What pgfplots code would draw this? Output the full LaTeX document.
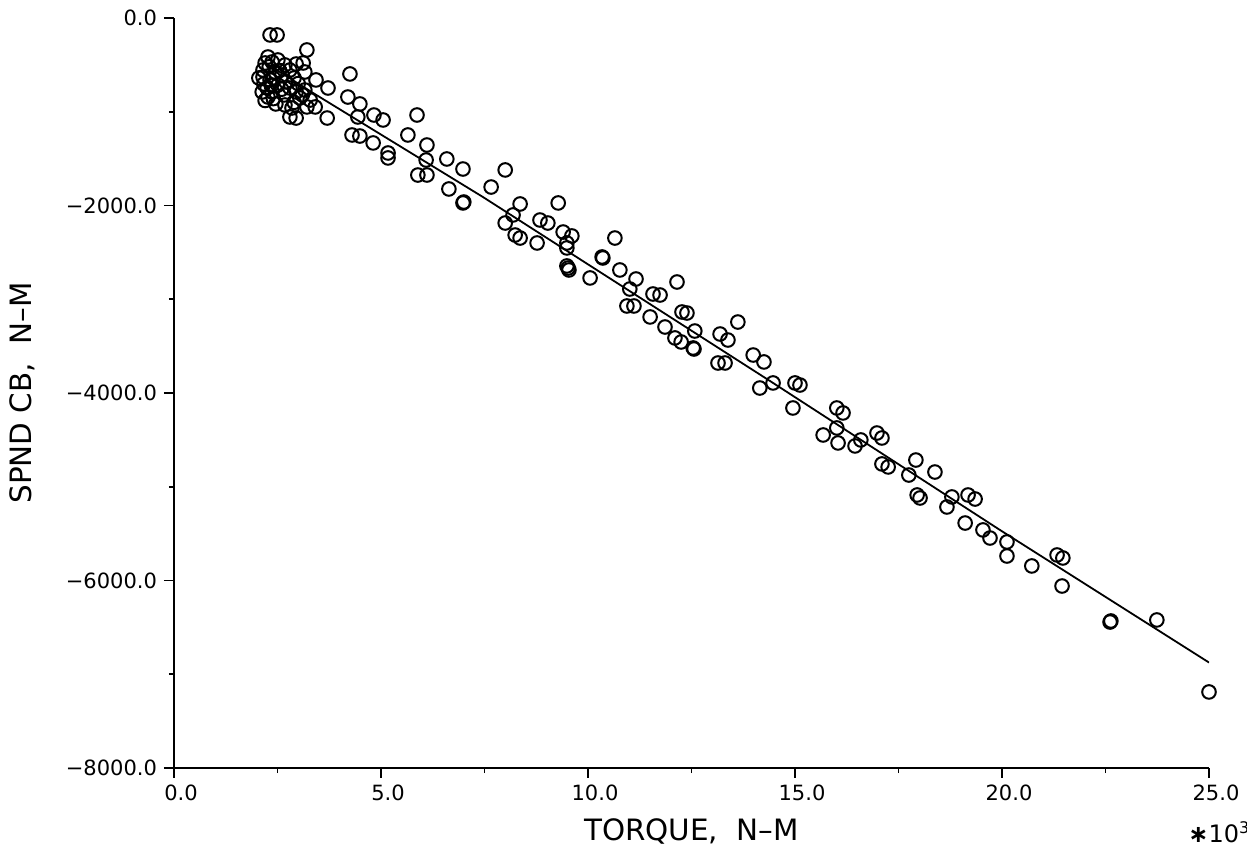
\documentclass[border=0pt]{standalone}
\usepackage{fontspec}
\setmainfont{DejaVu Sans}
\usepackage{pgfplots}
\pgfplotsset{compat=1.18}
\usepackage{pgfplotstable}

\pgfplotstableread{
x y
2.32 -181
2.49 -181
3.21 -341
2.27 -416
2.15 -555
2.37 -469
2.51 -448
2.68 -501
2.80 -555
2.95 -491
3.12 -480
3.16 -576
2.61 -608
2.44 -576
2.25 -747
2.27 -843
2.37 -789
2.51 -715
2.66 -821
2.80 -747
2.95 -789
3.04 -853
3.16 -768
2.46 -917
2.68 -928
2.85 -960
2.80 -1056
2.95 -1067
3.21 -949
3.41 -949
3.43 -661
3.72 -747
3.70 -1067
3.29 -875
2.13 -789
2.17 -704
2.15 -629
2.32 -661
2.20 -480
2.30 -520
2.40 -640
2.55 -560
2.70 -680
2.90 -640
3.00 -700
2.20 -880
2.40 -860
2.60 -760
2.90 -900
3.10 -820
2.35 -720
2.05 -640
4.25 -597
4.20 -843
4.49 -917
4.44 -1056
4.83 -1035
5.05 -1088
4.30 -1248
4.49 -1259
4.81 -1333
5.17 -1440
5.17 -1493
5.87 -1035
5.65 -1248
6.11 -1355
6.09 -1515
5.89 -1675
6.11 -1675
6.59 -1504
6.98 -1611
6.64 -1824
6.98 -1973
7.00 -1963
8.00 -1621
7.66 -1803
8.36 -1984
8.19 -2101
8.00 -2187
8.24 -2315
8.36 -2347
8.77 -2400
9.28 -1973
8.84 -2155
9.03 -2187
9.40 -2283
9.49 -2400
9.61 -2325
9.49 -2453
9.49 -2645
9.54 -2688
9.52 -2667
10.65 -2347
10.34 -2549
10.36 -2560
10.77 -2688
10.05 -2773
11.16 -2784
11.01 -2891
10.94 -3072
11.11 -3072
11.57 -2944
11.74 -2955
12.15 -2816
11.50 -3189
11.86 -3296
12.10 -3413
12.25 -3456
12.27 -3136
12.39 -3147
12.58 -3339
12.54 -3520
12.56 -3531
13.19 -3371
13.38 -3435
13.62 -3243
13.14 -3680
13.31 -3680
13.99 -3595
14.25 -3669
14.47 -3893
14.15 -3947
15.00 -3893
15.12 -3915
14.95 -4160
16.01 -4160
16.16 -4213
16.01 -4373
15.68 -4448
16.04 -4533
16.45 -4565
16.59 -4501
16.98 -4427
17.10 -4480
17.10 -4757
17.25 -4789
17.92 -4715
18.38 -4843
17.75 -4875
17.95 -5088
18.02 -5120
18.79 -5109
18.67 -5216
19.18 -5088
19.35 -5131
19.11 -5387
19.54 -5461
19.71 -5547
20.12 -5589
20.12 -5739
20.72 -5845
21.33 -5728
21.47 -5760
21.45 -6059
22.61 -6443
22.63 -6432
23.74 -6421
25.00 -7189
}\pts

\begin{document}
\begin{tikzpicture}
\useasboundingbox (-87pt,-43pt) rectangle (536.5pt,384pt);
\begin{axis}[
  scale only axis,
  width=517.5pt, height=375pt,
  xmin=0, xmax=25, ymin=-8000, ymax=0,
  axis x line*=bottom, axis y line*=left,
  axis line style={-, line width=0.9pt},
  tick align=outside,
  major tick length=5pt, minor tick length=2.6pt,
  every tick/.style={black, line width=0.9pt},
  xtick={0,5,10,15,20,25},
  xticklabels={0.0,5.0,10.0,15.0,20.0,25.0},
  minor xtick={2.5,7.5,12.5,17.5,22.5},
  ytick={-8000,-6000,-4000,-2000,0},
  yticklabels={−8000.0,−6000.0,−4000.0,−2000.0,0.0},
  minor ytick={-7000,-5000,-3000,-1000},
  xticklabel style={font=\fontsize{10.5}{12}\selectfont, xshift=3.5pt},
  yticklabel style={font=\fontsize{10.5}{12}\selectfont},
  scaled ticks=false,
]
\addplot[only marks, mark=o, mark size=3.4pt, mark options={line width=1pt, black}] table[x=x,y=y] {\pts};
\addplot[black, line width=0.9pt] coordinates {
(2.1,-448) (3.36,-800) (7.46,-1909) (14.47,-3893) (19.95,-5461) (25.0,-6875)};
\end{axis}
\node[font=\fontsize{14.7}{16}\selectfont] at (258.75pt,-31.5pt) {TORQUE,\ \ N–M};
\node[rotate=90, font=\fontsize{14.7}{16}\selectfont] at (-76pt,187.5pt) {SPND CB,\ \ N–M};
\node[anchor=west, font=\fontsize{12}{14}\selectfont, inner sep=0pt] at (507pt,-32pt) {\textbf{∗}10\textsuperscript{3}};
\end{tikzpicture}
\end{document}
